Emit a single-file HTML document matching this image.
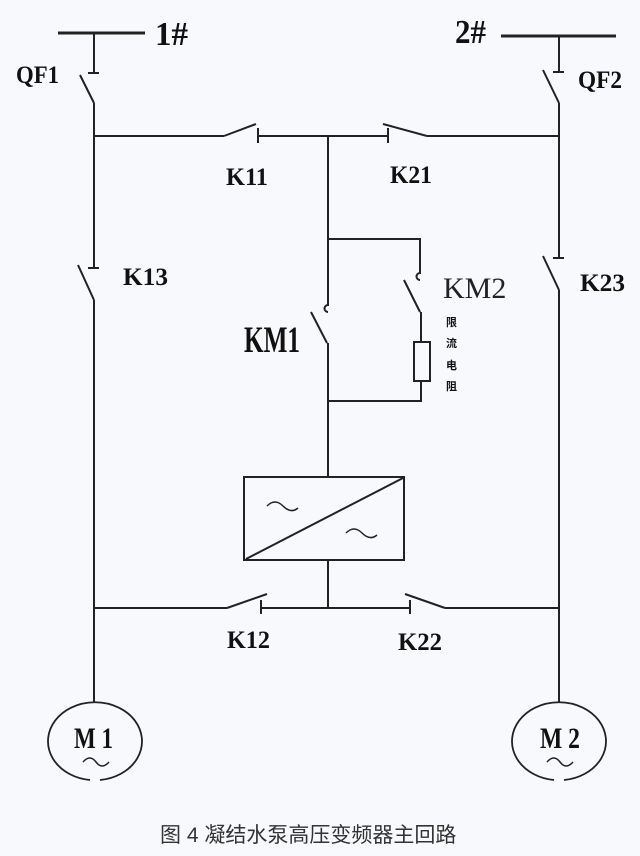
<!DOCTYPE html>
<html><head><meta charset="utf-8"><style>
html,body{margin:0;padding:0;background:#f8f9fc;}
svg{display:block;}
.l{font-family:"Liberation Serif",serif;font-weight:bold;font-size:25px;fill:#111;}
</style></head><body>
<svg width="640" height="856" viewBox="0 0 640 856" xmlns="http://www.w3.org/2000/svg">
<rect width="640" height="856" fill="#f8f9fc"/>
<g stroke="#222" stroke-width="2" fill="none" stroke-linecap="butt">
<line x1="58" y1="33" x2="145" y2="33" stroke-width="3"/>
<line x1="94" y1="33" x2="94" y2="73"/>
<line x1="88" y1="73" x2="99" y2="73"/>
<line x1="80" y1="75" x2="94" y2="103"/>
<line x1="94" y1="103" x2="94" y2="268"/>
<line x1="501" y1="36" x2="616" y2="36" stroke-width="3"/>
<line x1="559" y1="36" x2="559" y2="72"/>
<line x1="553" y1="72" x2="564" y2="72"/>
<line x1="543" y1="70" x2="559" y2="103"/>
<line x1="559" y1="103" x2="559" y2="258"/>
<line x1="94" y1="136" x2="224" y2="136"/>
<line x1="224" y1="136" x2="256" y2="124"/>
<line x1="258" y1="128" x2="258" y2="143"/>
<line x1="258" y1="136" x2="388" y2="136"/>
<line x1="388" y1="128" x2="388" y2="143"/>
<line x1="383" y1="124" x2="427" y2="136"/>
<line x1="427" y1="136" x2="559" y2="136"/>
<line x1="88" y1="268" x2="99" y2="268"/>
<line x1="78" y1="265" x2="94" y2="300"/>
<line x1="94" y1="300" x2="94" y2="703"/>
<line x1="553" y1="258" x2="564" y2="258"/>
<line x1="543" y1="256" x2="559" y2="290"/>
<line x1="559" y1="290" x2="559" y2="703"/>
<line x1="328" y1="136" x2="328" y2="306"/>
<path d="M328 305 A3.5 3.5 0 1 0 328 312"/>
<line x1="311" y1="312" x2="327" y2="343"/>
<line x1="328" y1="343" x2="328" y2="477"/>
<polyline points="328,239 420,239 420,274"/>
<path d="M420 273 A3.5 3.5 0 1 0 420 280"/>
<line x1="404" y1="280" x2="420" y2="312"/>
<line x1="421" y1="312" x2="421" y2="342"/>
<rect x="414" y="342" width="16" height="39"/>
<polyline points="421,381 421,401 328,401"/>
<rect x="244" y="477" width="160" height="83"/>
<line x1="246" y1="559" x2="403" y2="478"/>
<path d="M267 506 q8 -8 16 0 t15 2" stroke-width="1.5"/>
<path d="M346 533 q8 -8 16 0 t15 2" stroke-width="1.5"/>
<line x1="328" y1="560" x2="328" y2="608"/>
<line x1="94" y1="608" x2="227" y2="608"/>
<line x1="227" y1="608" x2="267" y2="594"/>
<line x1="261" y1="600" x2="261" y2="614"/>
<line x1="261" y1="608" x2="410" y2="608"/>
<line x1="410" y1="600" x2="410" y2="614"/>
<line x1="405" y1="594" x2="445" y2="608"/>
<line x1="445" y1="608" x2="559" y2="608"/>
<path d="M90 780 A47 39 0 1 1 100 780" stroke-width="1.8"/>
<path d="M554 780 A47 39 0 1 1 564 780" stroke-width="1.8"/>
<path d="M83 762 q7 -8 13 0 t13 0" stroke-width="1.5"/>
<path d="M547 762 q7 -8 13 0 t13 0" stroke-width="1.5"/>
</g>
<text class="l" x="155" y="45" style="font-size:34px" textLength="33" lengthAdjust="spacingAndGlyphs">1#</text>
<text class="l" x="455" y="43" style="font-size:34px" textLength="31" lengthAdjust="spacingAndGlyphs">2#</text>
<text class="l" x="16" y="83" textLength="43" lengthAdjust="spacingAndGlyphs">QF1</text>
<text class="l" x="578" y="88" textLength="44" lengthAdjust="spacingAndGlyphs">QF2</text>
<text class="l" x="226" y="185" textLength="42" lengthAdjust="spacingAndGlyphs">K11</text>
<text class="l" x="390" y="183" textLength="42" lengthAdjust="spacingAndGlyphs">K21</text>
<text class="l" x="123" y="285" textLength="45" lengthAdjust="spacingAndGlyphs">K13</text>
<text class="l" x="580" y="291" textLength="45" lengthAdjust="spacingAndGlyphs">K23</text>
<text class="l" x="227" y="648" textLength="43" lengthAdjust="spacingAndGlyphs">K12</text>
<text class="l" x="398" y="650" textLength="44" lengthAdjust="spacingAndGlyphs">K22</text>
<text class="l" x="244" y="352" style="font-size:37px" textLength="56" lengthAdjust="spacingAndGlyphs">KM1</text>
<text x="443" y="298" style="font-family:'Liberation Serif',serif;font-size:30px;fill:#222">KM2</text>
<g style="font-family:'Noto Sans CJK SC',sans-serif;font-size:11px;font-weight:bold;fill:#111">
<text x="446" y="326">限</text><text x="446" y="347">流</text><text x="446" y="369">电</text><text x="446" y="390">阻</text>
</g>
<text class="l" x="74" y="748" style="font-size:30px" textLength="39" lengthAdjust="spacingAndGlyphs">M 1</text>
<text class="l" x="540" y="748" style="font-size:30px" textLength="40" lengthAdjust="spacingAndGlyphs">M 2</text>
<text x="160" y="842" style="font-family:'Liberation Sans','Noto Sans CJK SC',sans-serif;font-size:21px;fill:#333">图 4 凝结水泵高压变频器主回路</text>
</svg>
</body></html>
